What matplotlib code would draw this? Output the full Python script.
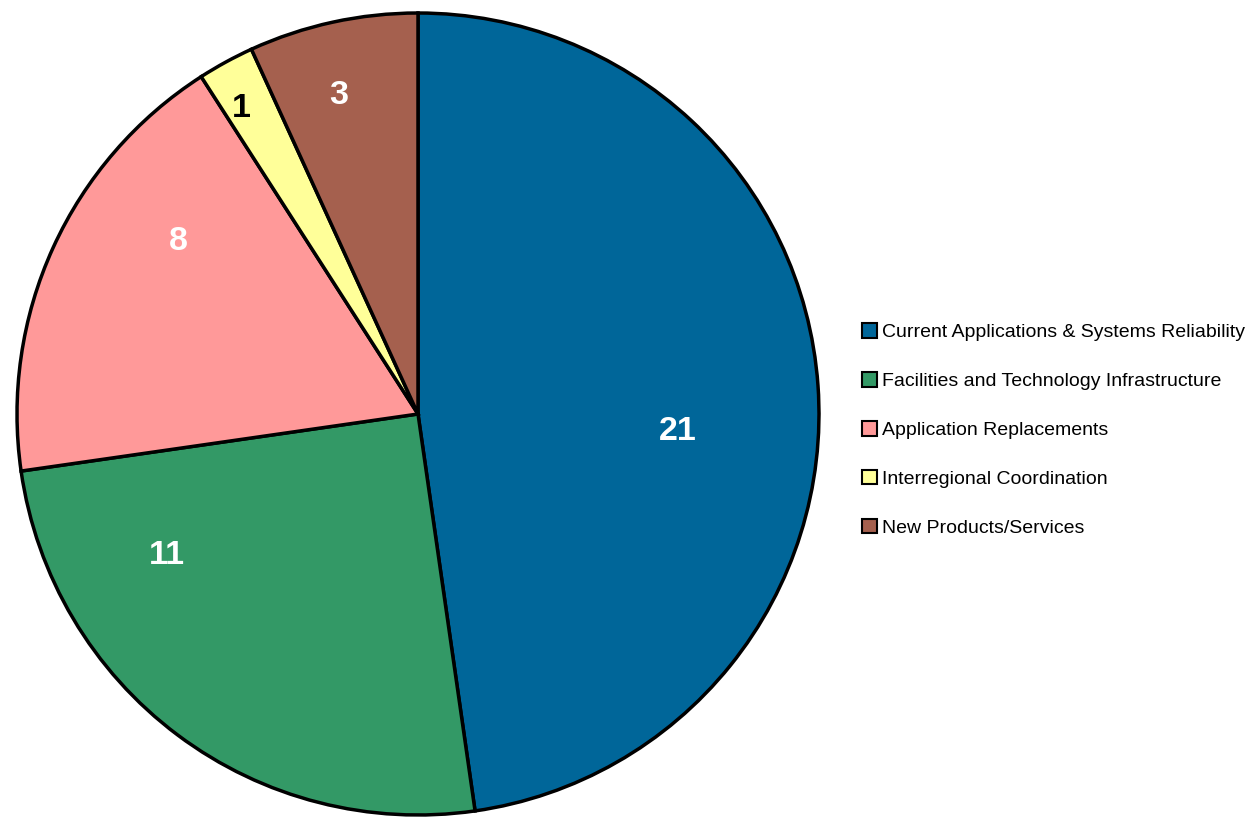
import matplotlib
matplotlib.use("Agg")
import matplotlib.pyplot as plt
from matplotlib.patches import Patch
from matplotlib import font_manager

categories = ["Current Applications & Systems Reliability",
              "Facilities and Technology Infrastructure",
              "Application Replacements",
              "Interregional Coordination",
              "New Products/Services"]
values = [21, 11, 8, 1, 3]
colors = ["#006699", "#339966", "#FF9999", "#FFFF99", "#A5604E"]
label_colors = ["white", "white", "white", "black", "white"]
# label positions in pie units (x, y)
label_pos = [(0.647, -0.044), (-0.625, -0.353), (-0.598, 0.430), (-0.440, 0.763), (-0.198, 0.795)]

names = {f.name for f in font_manager.fontManager.ttflist}
font = "Liberation Sans Narrow" if "Liberation Sans Narrow" in names else "Liberation Sans"
fam = [font, "DejaVu Sans"]

fig = plt.figure(figsize=(12.55, 8.24), dpi=100)
W, H = 1255, 824
cx, cy, r = 418, 414, 405
ax = fig.add_axes([(cx - r) / W, (H - cy - r) / H, 2 * r / W, 2 * r / H])
wedges, _ = ax.pie(values, colors=colors, startangle=90, counterclock=False,
                   radius=1, wedgeprops=dict(edgecolor="black", linewidth=2.5))
ax.set_xlim(-1.01, 1.01)
ax.set_ylim(-1.01, 1.01)
ax.set_aspect("equal")
ax.axis("off")

renderer = fig.canvas.get_renderer()

# number labels: compromise between the reference's width and height
probe = fig.text(0, 0, "21", size=28, fontweight="bold", family=fam)
wnum = probe.get_window_extent(renderer).width
probe.remove()
num_size = min(28, 28 * 38 / wnum)
for v, (x, y), c in zip(values, label_pos, label_colors):
    ax.text(x, y, str(v), ha="center", va="center", color=c,
            fontsize=num_size, fontweight="bold", family=fam)

# legend: fit the longest label to ~362 px
probe = fig.text(0, 0, categories[0], size=16, family=fam)
wl = probe.get_window_extent(renderer).width
probe.remove()
leg_size = min(16, 16 * 362 / wl)
s_px = leg_size * 100 / 72
handles = [Patch(facecolor=c, edgecolor="black", linewidth=1.5) for c in colors]
leg = fig.legend(handles, categories, loc="center left",
                 bbox_to_anchor=(862 / W, 1 - 430 / H), frameon=False,
                 prop=dict(family=fam, size=leg_size),
                 handlelength=15 / s_px, handleheight=15 / s_px,
                 handletextpad=5 / s_px,
                 labelspacing=(49.5 - 0.955 * s_px) / s_px,
                 borderaxespad=0, borderpad=0)

fig.savefig("out.png", dpi=100)
